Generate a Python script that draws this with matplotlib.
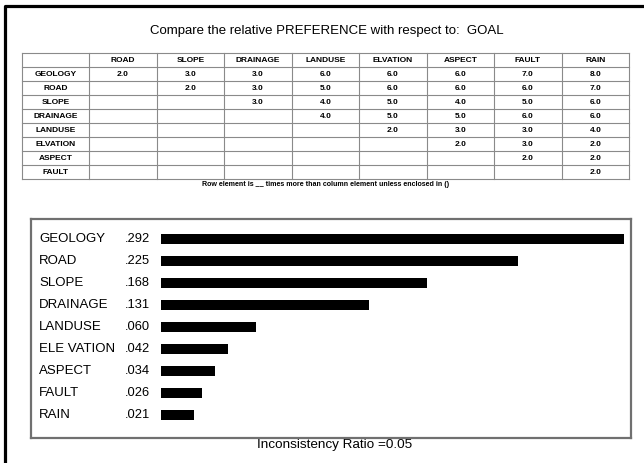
import matplotlib
matplotlib.use("Agg")
import matplotlib.pyplot as plt

plt.rcParams['font.family'] = ['Liberation Sans', 'DejaVu Sans']

# ---- data ----
title = "Compare the relative PREFERENCE with respect to:  GOAL"
row_labels = ["GEOLOGY", "ROAD", "SLOPE", "DRAINAGE", "LANDUSE", "ELVATION", "ASPECT", "FAULT"]
col_labels = ["ROAD", "SLOPE", "DRAINAGE", "LANDUSE", "ELVATION", "ASPECT", "FAULT", "RAIN"]
geology_row = [2.0, 3.0, 3.0, 6.0, 6.0, 6.0, 7.0, 8.0]
road_row = [None, 2.0, 3.0, 5.0, 6.0, 6.0, 6.0, 7.0]
slope_row = [None, None, 3.0, 4.0, 5.0, 4.0, 5.0, 6.0]
drainage_row = [None, None, None, 4.0, 5.0, 5.0, 6.0, 6.0]
landuse_row = [None, None, None, None, 2.0, 3.0, 3.0, 4.0]
elvation_row = [None, None, None, None, None, 2.0, 3.0, 2.0]
aspect_row = [None, None, None, None, None, None, 2.0, 2.0]
fault_row = [None, None, None, None, None, None, None, 2.0]
note = "Row element is __ times more than column element unless enclosed in ()"

bar_labels = ["GEOLOGY", "ROAD", "SLOPE", "DRAINAGE", "LANDUSE", "ELE VATION", "ASPECT", "FAULT", "RAIN"]
bar_values = [0.292, 0.225, 0.168, 0.131, 0.060, 0.042, 0.034, 0.026, 0.021]
footer = "Inconsistency Ratio =0.05"

matrix = [geology_row, road_row, slope_row, drainage_row, landuse_row,
          elvation_row, aspect_row, fault_row]

W, H = 644, 463
fig = plt.figure(figsize=(W / 100, H / 100), dpi=100)

# background axes in pixel coordinates
bg = fig.add_axes([0, 0, 1, 1])
bg.set_xlim(0, W)
bg.set_ylim(H, 0)
bg.axis('off')

# outer frame (left and top edges visible)
bg.plot([5.5, 5.5, W + 5], [H + 5, 6, 6], color='black', lw=2.3, solid_capstyle='butt')

# title
bg.text(327, 31, title, ha='center', va='center', fontsize=9.5)

# table
t_left, t_top, col_w, row_h = 21.7, 53, 67.5, 14
ncols = len(col_labels) + 1
nrows = len(row_labels) + 1
t_right = t_left + ncols * col_w
t_bottom = t_top + nrows * row_h
lc = '#8a8a8a'
for i in range(nrows + 1):
    y = t_top + i * row_h
    bg.plot([t_left, t_right], [y, y], color=lc, lw=0.8)
for j in range(ncols + 1):
    x = t_left + j * col_w
    bg.plot([x, x], [t_top, t_bottom], color=lc, lw=0.8)

tfs = 6.0
for j, c in enumerate(col_labels):
    bg.text(t_left + (j + 1.5) * col_w, t_top + 0.5 * row_h + 0.5, c,
            ha='center', va='center', fontsize=tfs, fontweight='bold')
for i, r in enumerate(row_labels):
    yc = t_top + (i + 1.5) * row_h + 0.5
    bg.text(t_left + 0.5 * col_w, yc, r, ha='center', va='center',
            fontsize=tfs, fontweight='bold')
    for j, v in enumerate(matrix[i]):
        if v is not None:
            bg.text(t_left + (j + 1.5) * col_w, yc, f"{v:.1f}", ha='center',
                    va='center', fontsize=tfs, fontweight='bold')

bg.text(326, t_bottom + 5.5, note, ha='center', va='center',
        fontsize=5.1, fontweight='bold')

# bar chart box
bx0, bx1, by0, by1 = 30.7, 631, 219, 438
ax = fig.add_axes([bx0 / W, 1 - by1 / H, (bx1 - bx0) / W, (by1 - by0) / H])
px_per_unit = (624 - 161) / bar_values[0]
ax.set_xlim(-(161 - bx0) / px_per_unit, (bx1 - 161) / px_per_unit)
row_sp = 22
ax.set_ylim((by1 - 239) / row_sp, -(239 - by0) / row_sp)
ypos = list(range(len(bar_values)))
ax.barh(ypos, bar_values, height=10 / row_sp, left=0, color='black')
ax.set_xticks([])
ax.set_yticks([])
for s in ax.spines.values():
    s.set_color('#707070')
    s.set_linewidth(1.6)
for y, lab, v in zip(ypos, bar_labels, bar_values):
    ax.text((39 - bx0) / (bx1 - bx0), y, lab, transform=ax.get_yaxis_transform(),
            ha='left', va='center', fontsize=9.5)
    ax.text((125 - bx0) / (bx1 - bx0), y, f"{v:.3f}".lstrip('0'),
            transform=ax.get_yaxis_transform(), ha='left', va='center', fontsize=9.3)

bg.text(335, 445, footer, ha='center', va='center', fontsize=9.7)

fig.savefig("out.png", dpi=100)
